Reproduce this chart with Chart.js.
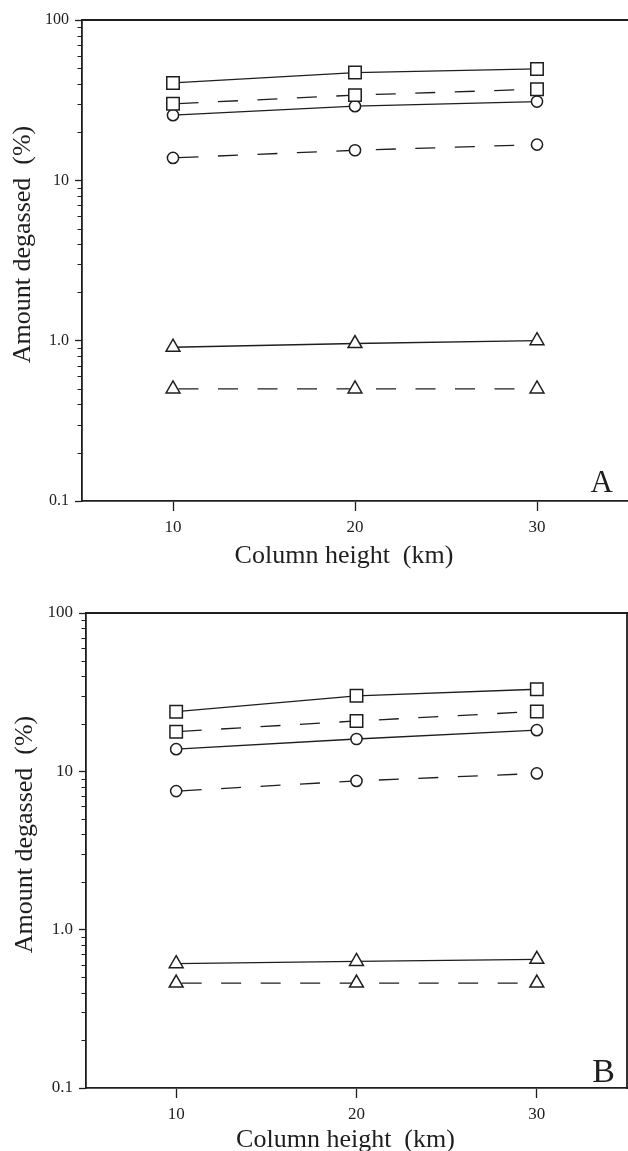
<!DOCTYPE html>
<html>
<head>
<meta charset="utf-8">
<script src="https://cdn.jsdelivr.net/npm/chart.js@4/dist/chart.umd.min.js"></script>
<style>
  html, body { margin: 0; padding: 0; background: #fff; }
  .panel { position: absolute; left: 0; width: 628px; }
  #wrapA { top: 0; height: 580px; }
  #wrapB { top: 580px; height: 571px; }
  canvas { display: block; }
</style>
</head>
<body>
<div class="panel" id="wrapA"><canvas id="chartA" width="628" height="580"></canvas></div>
<div class="panel" id="wrapB"><canvas id="chartB" width="628" height="571"></canvas></div>
<script>
// Column heights (km) and axis ticks
const heights = [10, 20, 30];
const xTicks = [10, 20, 30];
const yTickValues = [0.1, 1, 10, 100];
const yTickLabels = ['0.1', '1.0', '10', '100'];
const minorDecades = [0.1, 1, 10];

// Panel A: amount degassed (%)
const squareSolidA = [40.5, 47, 49.5];
const squareDashA  = [30, 34, 37];
const circleSolidA = [25.5, 29, 31];
const circleDashA  = [13.8, 15.4, 16.7];
const triSolidA    = [0.91, 0.96, 1.0];
const triDashA     = [0.5, 0.5, 0.5];

// Panel B: amount degassed (%)
const squareSolidB = [23.8, 30, 33];
const squareDashB  = [17.8, 20.8, 23.9];
const circleSolidB = [13.8, 16, 18.2];
const circleDashB  = [7.5, 8.7, 9.7];
const triSolidB    = [0.61, 0.63, 0.65];
const triDashB     = [0.46, 0.46, 0.46];

const INK = '#1e1e1e';
const SERIF = '"Liberation Serif", "DejaVu Serif", serif';

function series(values, style, dashed) {
  const radius = style === 'rect' ? 8.8 : (style === 'circle' ? 5.6 : 8);
  return {
    data: heights.map((h, i) => ({ x: h, y: values[i] })),
    borderColor: INK,
    borderWidth: 1.3,
    borderDash: dashed ? [20, 19.5] : [],
    borderDashOffset: dashed ? 34 : 0,
    pointStyle: style,
    pointRadius: radius,
    pointHoverRadius: radius,
    pointBorderWidth: 1.5,
    pointBorderColor: INK,
    pointBackgroundColor: '#fff',
    tension: 0,
    fill: false
  };
}

// Frame, minor log ticks, panel letter and axis titles
const framePlugin = {
  id: 'frame',
  afterDraw(chart, args, o) {
    const { ctx, chartArea: a, scales } = chart;
    ctx.save();
    ctx.strokeStyle = INK;
    ctx.lineWidth = 1.8;
    ctx.beginPath();
    ctx.moveTo(a.left - 1, a.top);
    ctx.lineTo(a.right + 1, a.top);
    if (o.rightEdge) {
      ctx.moveTo(a.right, a.top);
      ctx.lineTo(a.right, a.bottom + 1);
    }
    ctx.stroke();

    const ys = scales.y;
    ctx.lineWidth = 1.2;
    ctx.beginPath();
    minorDecades.forEach(d => {
      for (let k = 2; k <= 9; k++) {
        const py = Math.round(ys.getPixelForValue(k * d)) + 0.5;
        ctx.moveTo(a.left - 4.5, py);
        ctx.lineTo(a.left, py);
      }
    });
    ctx.stroke();

    ctx.fillStyle = INK;
    ctx.font = o.letterSize + 'px ' + SERIF;
    ctx.textAlign = 'right';
    ctx.textBaseline = 'alphabetic';
    ctx.fillText(o.letter, a.right - o.letterDx, a.bottom - o.letterDy);

    ctx.font = '26px ' + SERIF;
    ctx.textAlign = 'center';
    ctx.fillText('Column height  (km)', (a.left + a.right) / 2 - 11, a.bottom + o.xTitleDy);

    ctx.translate(o.yTitleX, (a.top + a.bottom) / 2 - 16);
    ctx.rotate(-Math.PI / 2);
    ctx.textBaseline = 'middle';
    ctx.fillText('Amount degassed  (%)', 0, 0);
    ctx.restore();
  }
};

function makeChart(id, sets, cfg) {
  return new Chart(document.getElementById(id), {
    type: 'line',
    data: {
      datasets: [
        series(sets[0], 'rect', false),
        series(sets[1], 'rect', true),
        series(sets[2], 'circle', false),
        series(sets[3], 'circle', true),
        series(sets[4], 'triangle', false),
        series(sets[5], 'triangle', true)
      ]
    },
    options: {
      responsive: false,
      animation: false,
      events: [],
      layout: { autoPadding: false, padding: { top: cfg.top, right: cfg.right, left: 0, bottom: 0 } },
      plugins: {
        legend: { display: false },
        tooltip: { enabled: false },
        frame: cfg.frame
      },
      scales: {
        x: {
          type: 'linear',
          min: 5,
          max: 35,
          afterBuildTicks: s => { s.ticks = xTicks.map(v => ({ value: v })); },
          afterFit: s => { s.height = cfg.xHeight; },
          border: { display: true, color: INK, width: 1.8 },
          grid: { drawOnChartArea: false, drawTicks: true, tickLength: 10, tickColor: INK, tickWidth: 1.3 },
          ticks: {
            color: INK,
            font: { family: SERIF, size: 17 },
            padding: 6,
            maxRotation: 0,
            callback: v => String(v)
          }
        },
        y: {
          type: 'logarithmic',
          min: 0.1,
          max: 100,
          afterBuildTicks: s => { s.ticks = yTickValues.map(v => ({ value: v })); },
          afterFit: s => { s.width = cfg.yWidth; },
          border: { display: true, color: INK, width: 1.8 },
          grid: { drawOnChartArea: false, drawTicks: true, tickLength: 7, tickColor: INK, tickWidth: 1.3 },
          ticks: {
            color: INK,
            font: { family: SERIF, size: cfg.yFont },
            padding: 6,
            callback: v => {
              const i = yTickValues.findIndex(t => Math.abs(t - v) < 1e-9);
              return i >= 0 ? yTickLabels[i] : '';
            }
          }
        }
      }
    },
    plugins: [framePlugin]
  });
}

makeChart('chartA',
  [squareSolidA, squareDashA, circleSolidA, circleDashA, triSolidA, triDashA],
  {
    top: 20, right: 0, xHeight: 79, yWidth: 82, yFont: 16,
    frame: { rightEdge: false, letter: 'A', letterSize: 31, letterDx: 15, letterDy: 9, xTitleDy: 62, yTitleX: 23 }
  });

makeChart('chartB',
  [squareSolidB, squareDashB, circleSolidB, circleDashB, triSolidB, triDashB],
  {
    top: 33, right: 1, xHeight: 63, yWidth: 86, yFont: 17,
    frame: { rightEdge: true, letter: 'B', letterSize: 34, letterDx: 12, letterDy: 6, xTitleDy: 59, yTitleX: 25 }
  });
</script>
</body>
</html>
